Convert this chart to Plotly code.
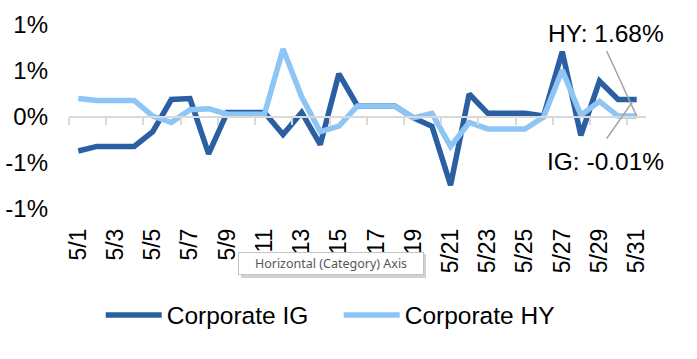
import plotly.graph_objects as go

dates = ["5/1", "5/2", "5/3", "5/4", "5/5", "5/6", "5/7", "5/8", "5/9", "5/10",
         "5/11", "5/12", "5/13", "5/14", "5/15", "5/16", "5/17", "5/18", "5/19", "5/20",
         "5/21", "5/22", "5/23", "5/24", "5/25", "5/26", "5/27", "5/28", "5/29", "5/30", "5/31"]
ig = [-0.37, -0.32, -0.32, -0.32, -0.16, 0.19, 0.20, -0.40, 0.05, 0.05,
      0.05, -0.19, 0.05, -0.30, 0.47, 0.12, 0.12, 0.12, -0.01, -0.10,
      -0.74, 0.25, 0.04, 0.04, 0.04, 0.01, 0.71, -0.20, 0.39, 0.19, 0.19]
hy = [0.20, 0.18, 0.18, 0.18, 0.01, -0.06, 0.08, 0.09, 0.03, 0.03,
      0.03, 0.74, 0.22, -0.16, -0.10, 0.12, 0.12, 0.12, -0.01, 0.04,
      -0.32, -0.06, -0.13, -0.13, -0.13, 0.00, 0.51, 0.02, 0.17, 0.01, 0.01]
y_ticks = [-1.0, -0.5, 0.0, 0.5, 1.0]
y_labels = ["-1%", "-1%", "0%", "1%", "1%"]
x_labels = dates[::2]
hy_note = "HY: 1.68%"
ig_note = "IG: -0.01%"
tooltip = "Horizontal (Category) Axis"

IG_COLOR = "#2A5FA3"
HY_COLOR = "#8DC5F5"
AXIS_GRAY = "#D9D9D9"
FONT = "Liberation Sans, Arial, sans-serif"

PW, PH = 577, 184  # plot area in px

fig = go.Figure()
fig.add_trace(go.Scatter(x=dates, y=ig, mode="lines", name="Corporate IG",
                         line=dict(color=IG_COLOR, width=5.5)))
fig.add_trace(go.Scatter(x=dates, y=hy, mode="lines", name="Corporate HY",
                         line=dict(color=HY_COLOR, width=5.5)))
# empty trace so the zero-level category axis (x2) is drawn
fig.add_trace(go.Scatter(x=[], y=[], xaxis="x2", yaxis="y", showlegend=False,
                         hoverinfo="skip"))

last = len(dates) - 1

fig.update_layout(
    width=697, height=359, autosize=False,
    margin=dict(l=69, r=51, t=25, b=150, autoexpand=False),
    paper_bgcolor="white", plot_bgcolor="white",
    font=dict(family=FONT, size=23, color="#000000"),
    showlegend=True,
    legend=dict(orientation="h", x=0.055, xanchor="left", y=-0.576, yanchor="middle",
                itemwidth=56, entrywidth=167, entrywidthmode="pixels",
                font=dict(size=24.5), bgcolor="rgba(0,0,0,0)"),
    xaxis=dict(type="category", categoryorder="array", categoryarray=dates,
               range=[-0.5, last + 0.5], tickmode="array", tickvals=x_labels,
               ticktext=x_labels, tickangle=-90, showline=False, ticks="",
               showgrid=False, zeroline=False, ticklabelstandoff=14,
               tickfont=dict(size=23), automargin=False),
    xaxis2=dict(overlaying="x", anchor="free", position=0.5, type="linear",
                range=[-0.5, last + 0.5], tick0=-0.5, dtick=2, ticks="outside",
                ticklen=7, tickwidth=2, tickcolor=AXIS_GRAY, showline=True,
                linecolor=AXIS_GRAY, linewidth=2, showticklabels=False,
                showgrid=False, zeroline=False, automargin=False),
    yaxis=dict(range=[-1.0, 1.0], tickmode="array", tickvals=y_ticks, ticktext=y_labels,
               showgrid=False, zeroline=False, showline=False, ticks="",
               ticklabelstandoff=20, tickfont=dict(size=24), automargin=False),
)

# leader lines for the end labels
fig.add_shape(type="line", xref="x", yref="y", xsizemode="pixel", ysizemode="pixel",
              xanchor=last, yanchor=hy[last], x0=-30, y0=65, x1=0, y1=0,
              line=dict(color="#A6A6A6", width=1.5))
fig.add_shape(type="line", xref="x", yref="y", xsizemode="pixel", ysizemode="pixel",
              xanchor=last, yanchor=ig[last], x0=-30, y0=-39, x1=-4, y1=-2,
              line=dict(color="#A6A6A6", width=1.5))

fig.add_annotation(x=last, y=hy[last], xref="x", yref="y", text=hy_note, showarrow=False,
                   xanchor="center", yanchor="middle",
                   xshift=-31, yshift=83, font=dict(size=24.5, color="#000000"))
fig.add_annotation(x=last, y=ig[last], xref="x", yref="y", text=ig_note, showarrow=False,
                   xanchor="center", yanchor="middle",
                   xshift=-31, yshift=-62, font=dict(size=24.5, color="#000000"))

# hover tooltip seen in the reference (page px -> paper fraction)
fig.add_shape(type="rect", xref="paper", yref="paper",
              x0=(241 - 69) / PW, x1=(426 - 69) / PW,
              y0=(209 - 278) / PH, y1=(209 - 254) / PH,
              line=dict(width=0), fillcolor="rgba(0,0,0,0.18)", layer="above")
fig.add_annotation(x=(331 - 69) / PW, y=(209 - 263.5) / PH, xref="paper", yref="paper",
                   xanchor="center", yanchor="middle",
                   text=tooltip, showarrow=False, bgcolor="#FFFFFF",
                   bordercolor="#C4C4C4", borderwidth=1, borderpad=2, width=180,
                   font=dict(family="Noto Sans, sans-serif", size=12.5, color="#575757"))

fig.write_html("out.html", config={"displayModeBar": False},
               post_script="document.body.style.margin='0';")
